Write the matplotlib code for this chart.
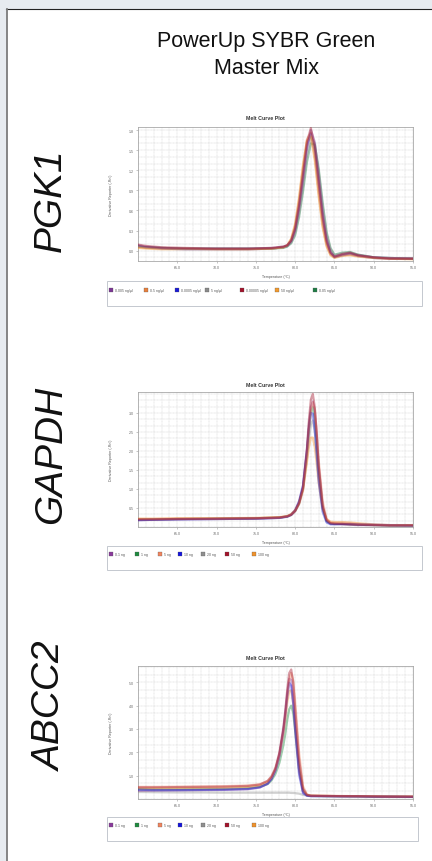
import matplotlib.pyplot as plt
from matplotlib.lines import Line2D
from matplotlib.patches import Rectangle
from matplotlib.ticker import AutoMinorLocator, MultipleLocator

plt.rcParams["font.family"] = ["Liberation Sans", "DejaVu Sans"]

# Canvas size in pixels (saved at dpi=100)
FIG_W, FIG_H = 432, 862

HEADER = ["PowerUp SYBR Green", "Master Mix"]
GENES = ["PGK1", "GAPDH", "ABCC2"]

# --- PGK1 melt curves (derivative reporter vs temperature) ---
PGK1_TEMPS = [60, 61, 63, 66, 70, 74, 77, 78.5, 79, 79.5, 80, 80.5, 81, 81.5,
              82, 82.5, 83, 83.5, 84, 84.5, 85, 86, 87, 88, 90, 92, 95]
PGK1_LABELS = ["0.005 ng/µl", "0.5 ng/µl", "0.0005 ng/µl", "5 ng/µl",
               "0.00005 ng/µl", "50 ng/µl", "0.05 ng/µl"]
PGK1_CURVES = [
    [0.08, 0.06, 0.04, 0.03, 0.03, 0.03, 0.04, 0.06, 0.08, 0.14, 0.30, 0.62, 1.05, 1.52,
     1.80, 1.62, 1.12, 0.58, 0.18, -0.02, -0.09, -0.06, -0.04, -0.07, -0.10, -0.11, -0.12],
    [0.05, 0.04, 0.03, 0.03, 0.02, 0.02, 0.03, 0.05, 0.08, 0.17, 0.38, 0.76, 1.25, 1.66,
     1.76, 1.40, 0.86, 0.38, 0.08, -0.06, -0.10, -0.07, -0.06, -0.08, -0.11, -0.12, -0.12],
    [0.06, 0.05, 0.03, 0.02, 0.02, 0.02, 0.03, 0.05, 0.07, 0.15, 0.34, 0.70, 1.16, 1.58,
     1.74, 1.48, 0.96, 0.46, 0.12, -0.04, -0.10, -0.07, -0.05, -0.08, -0.11, -0.12, -0.12],
    [0.07, 0.05, 0.04, 0.03, 0.03, 0.03, 0.03, 0.05, 0.07, 0.12, 0.26, 0.55, 0.96, 1.42,
     1.70, 1.60, 1.18, 0.66, 0.24, 0.02, -0.07, -0.04, -0.03, -0.06, -0.10, -0.11, -0.12],
    [0.09, 0.07, 0.05, 0.04, 0.03, 0.03, 0.04, 0.06, 0.08, 0.15, 0.33, 0.68, 1.14, 1.62,
     1.83, 1.55, 1.02, 0.50, 0.14, -0.03, -0.09, -0.05, -0.03, -0.07, -0.10, -0.12, -0.12],
    [0.04, 0.03, 0.02, 0.02, 0.02, 0.02, 0.03, 0.05, 0.08, 0.18, 0.40, 0.80, 1.28, 1.64,
     1.70, 1.34, 0.80, 0.34, 0.06, -0.07, -0.11, -0.08, -0.07, -0.09, -0.11, -0.12, -0.13],
    [0.06, 0.05, 0.04, 0.03, 0.03, 0.03, 0.03, 0.04, 0.06, 0.11, 0.23, 0.50, 0.88, 1.32,
     1.60, 1.58, 1.22, 0.72, 0.28, 0.04, -0.06, -0.03, -0.02, -0.06, -0.10, -0.11, -0.12],
]
PGK1_YTICKS = [0.0, 0.3, 0.6, 0.9, 1.2, 1.5, 1.8]

# --- GAPDH melt curves ---
GAPDH_TEMPS = [60, 62, 65, 70, 75, 78, 79, 79.5, 80, 80.5, 81, 81.5, 81.75, 82,
               82.25, 82.5, 82.75, 83, 83.5, 84, 84.5, 85, 86, 87, 88, 90, 92, 95]
DILUTION_LABELS = ["0.1 ng", "1 ng", "5 ng", "10 ng", "20 ng", "50 ng", "100 ng"]
GAPDH_CURVES = [
    [0.18, 0.19, 0.20, 0.21, 0.22, 0.24, 0.28, 0.33, 0.45, 0.68, 1.10, 2.05, 2.70, 3.15,
     3.30, 3.05, 2.40, 1.62, 0.58, 0.17, 0.09, 0.08, 0.07, 0.06, 0.05, 0.05, 0.04, 0.04],
    [0.20, 0.20, 0.21, 0.22, 0.23, 0.25, 0.28, 0.33, 0.43, 0.63, 1.02, 1.95, 2.58, 3.02,
     3.15, 2.85, 2.20, 1.48, 0.52, 0.16, 0.09, 0.08, 0.08, 0.07, 0.06, 0.05, 0.04, 0.04],
    [0.21, 0.21, 0.22, 0.22, 0.23, 0.25, 0.28, 0.33, 0.42, 0.60, 0.95, 1.85, 2.55, 3.05,
     3.28, 3.10, 2.50, 1.75, 0.68, 0.22, 0.12, 0.11, 0.11, 0.10, 0.08, 0.06, 0.05, 0.05],
    [0.18, 0.19, 0.20, 0.21, 0.22, 0.24, 0.27, 0.32, 0.43, 0.66, 1.08, 2.00, 2.60, 3.00,
     2.98, 2.55, 1.90, 1.20, 0.40, 0.12, 0.07, 0.07, 0.08, 0.08, 0.07, 0.06, 0.05, 0.04],
    [0.19, 0.20, 0.21, 0.21, 0.22, 0.24, 0.27, 0.31, 0.41, 0.60, 0.98, 1.78, 2.30, 2.70,
     2.80, 2.50, 1.92, 1.30, 0.48, 0.15, 0.09, 0.08, 0.08, 0.07, 0.06, 0.05, 0.04, 0.04],
    [0.20, 0.20, 0.21, 0.22, 0.23, 0.25, 0.28, 0.32, 0.42, 0.62, 1.02, 2.05, 2.80, 3.35,
     3.50, 3.15, 2.45, 1.60, 0.55, 0.18, 0.10, 0.09, 0.08, 0.07, 0.06, 0.05, 0.04, 0.04],
    [0.22, 0.22, 0.23, 0.23, 0.24, 0.26, 0.29, 0.34, 0.44, 0.64, 1.00, 1.70, 2.10, 2.35,
     2.35, 2.10, 1.65, 1.15, 0.48, 0.20, 0.14, 0.13, 0.13, 0.12, 0.10, 0.07, 0.05, 0.05],
]
GAPDH_YTICKS = [0.5, 1.0, 1.5, 2.0, 2.5, 3.0]

# --- ABCC2 melt curves ---
ABCC2_TEMPS = [60, 62, 65, 68, 71, 74, 75.5, 76.5, 77, 77.5, 78, 78.5, 78.75, 79,
               79.25, 79.5, 79.75, 80, 80.5, 81, 81.5, 82, 84, 86, 88, 90, 92, 95]
ABCC2_CURVES = [
    [0.35, 0.36, 0.37, 0.38, 0.39, 0.42, 0.49, 0.65, 0.88, 1.28, 1.95, 3.00, 3.72, 4.55,
     5.15, 5.10, 4.40, 3.25, 1.25, 0.30, 0.15, 0.13, 0.12, 0.12, 0.11, 0.10, 0.10, 0.09],
    [0.42, 0.41, 0.41, 0.42, 0.43, 0.46, 0.52, 0.64, 0.80, 1.08, 1.55, 2.30, 2.80, 3.40,
     3.85, 4.00, 3.70, 2.95, 1.30, 0.35, 0.16, 0.13, 0.12, 0.12, 0.11, 0.10, 0.10, 0.09],
    [0.52, 0.52, 0.53, 0.54, 0.55, 0.58, 0.63, 0.76, 0.94, 1.28, 1.88, 2.85, 3.55, 4.40,
     5.10, 5.40, 5.10, 4.20, 2.00, 0.55, 0.20, 0.15, 0.14, 0.13, 0.12, 0.12, 0.11, 0.11],
    [0.40, 0.38, 0.38, 0.39, 0.40, 0.43, 0.50, 0.66, 0.86, 1.22, 1.85, 2.90, 3.60, 4.40,
     4.98, 4.85, 4.10, 2.95, 1.05, 0.25, 0.14, 0.12, 0.12, 0.11, 0.11, 0.10, 0.10, 0.09],
    [0.30, 0.29, 0.28, 0.28, 0.27, 0.27, 0.27, 0.27, 0.27, 0.27, 0.27, 0.27, 0.27, 0.27,
     0.27, 0.26, 0.26, 0.25, 0.23, 0.18, 0.15, 0.14, 0.13, 0.12, 0.12, 0.11, 0.11, 0.10],
    [0.50, 0.50, 0.51, 0.52, 0.53, 0.56, 0.62, 0.78, 0.98, 1.35, 2.00, 3.05, 3.80, 4.70,
     5.40, 5.55, 5.00, 3.90, 1.70, 0.45, 0.18, 0.14, 0.13, 0.12, 0.12, 0.11, 0.10, 0.10],
    [0.45, 0.45, 0.46, 0.47, 0.48, 0.51, 0.57, 0.72, 0.92, 1.28, 1.90, 2.85, 3.45, 4.15,
     4.62, 4.65, 4.10, 3.10, 1.25, 0.35, 0.16, 0.14, 0.13, 0.12, 0.12, 0.11, 0.10, 0.10],
]
ABCC2_YTICKS = [1, 2, 3, 4, 5]

TEMP_TICKS = [65, 70, 75, 80, 85, 90, 95]

# Well colours as shown in the instrument legend
PGK1_COLORS = ["#7b3594", "#e8803c", "#1a1ad6", "#8a8a8a", "#a3122a", "#f39a2e", "#1f7d45"]
DILUTION_COLORS = ["#8a3a9c", "#1f8a3f", "#f0845e", "#1414dc", "#8f8f8f", "#a3122a", "#f0922c"]

# Back-to-front drawing order (indices into the legend order)
PGK1_ORDER = [2, 6, 3, 5, 1, 0, 4]
GAPDH_ORDER = [4, 1, 0, 6, 3, 2, 5]
ABCC2_ORDER = [4, 1, 6, 0, 3, 2, 5]


def fx(px):
    return px / FIG_W


def fy(px):
    return 1 - px / FIG_H


def draw_frame(fig):
    """White page with dark top rule and grey left rule."""
    fig.add_artist(Rectangle((fx(7), 0), 1 - fx(7), fy(10), transform=fig.transFigure,
                             facecolor="white", edgecolor="none", zorder=0))
    fig.add_artist(Line2D([fx(6), 1], [fy(9.5), fy(9.5)], transform=fig.transFigure,
                          color="#222222", lw=0.8))
    fig.add_artist(Line2D([fx(6.8), fx(6.8)], [0, fy(9.5)], transform=fig.transFigure,
                          color="#7c7c7c", lw=1.3))


def draw_panel(fig, box, temps, curves, labels, colors, order, ylim, yticks):
    left, right, top, bottom = box["axes"]
    ax = fig.add_axes([fx(left), fy(bottom), fx(right) - fx(left), fy(top) - fy(bottom)])

    for i in order:
        ax.plot(temps, curves[i], color=colors[i], lw=1.6, alpha=0.42,
                solid_joinstyle="round", solid_capstyle="round", zorder=3)

    ax.set_xlim(60, 95)
    ax.set_ylim(*ylim)
    ax.set_xticks(TEMP_TICKS)
    ax.set_xticklabels([f"{t:.1f}" for t in TEMP_TICKS])
    ax.set_yticks(yticks)
    ax.set_yticklabels([f"{t:.1f}" for t in yticks])
    ax.xaxis.set_minor_locator(MultipleLocator(1))
    ax.yaxis.set_minor_locator(AutoMinorLocator(3))
    ax.grid(which="both", color="#cfcfcf", lw=0.35, ls=(0, (2, 1)), zorder=0)
    ax.tick_params(which="major", length=1.5, width=0.4, color="#999999",
                   labelsize=2.6, labelcolor="#666666", pad=1.5)
    ax.tick_params(which="minor", length=0)
    for spine in ax.spines.values():
        spine.set_color("#a8a8a8")
        spine.set_linewidth(0.6)

    fig.text(fx(265), fy(box["title_y"]), "Melt Curve Plot", ha="center", va="center",
             fontsize=3.8, fontweight="bold", color="#333333")
    fig.text(fx(111), fy((top + bottom) / 2), "Derivative Reporter (-Rn')", rotation=90,
             ha="center", va="center", fontsize=2.6, color="#555555")
    fig.text(fx((left + right) / 2), fy(bottom + 15), "Temperature (°C)", ha="center",
             va="center", fontsize=2.6, color="#555555")

    # legend strip under the plot
    lx0, lx1, ly0, ly1 = box["legend"]
    fig.add_artist(Rectangle((fx(lx0), fy(ly1)), fx(lx1) - fx(lx0), fy(ly0) - fy(ly1),
                             transform=fig.transFigure, facecolor="white",
                             edgecolor="#c4c8cf", lw=0.7))
    ey = box["entry_y"]
    for x, label, color in zip(box["entries"], labels, colors):
        fig.add_artist(Rectangle((fx(x - 2.3), fy(ey + 2.3)), fx(4.6), 4.6 / FIG_H,
                                 transform=fig.transFigure, facecolor=color,
                                 edgecolor="#555555", lw=0.2))
        fig.text(fx(x + 4), fy(ey), label, ha="left", va="center", fontsize=2.5,
                 color="#555555")


PANELS = [
    {"axes": (138, 413, 128, 262), "title_y": 119, "legend": (107, 422, 282, 307),
     "entry_y": 291, "entries": [111, 146, 177, 207, 242, 277, 315]},
    {"axes": (138, 413, 393, 528), "title_y": 386, "legend": (107, 422, 547, 571),
     "entry_y": 555, "entries": [111, 137, 160, 180, 203, 227, 254]},
    {"axes": (138, 413, 667, 800), "title_y": 658, "legend": (107, 418, 818, 842),
     "entry_y": 826, "entries": [111, 137, 160, 180, 203, 227, 254]},
]


def main():
    fig = plt.figure(figsize=(FIG_W / 100, FIG_H / 100), dpi=100, facecolor="#e7ebf0")
    draw_frame(fig)

    fig.text(fx(266), fy(42), HEADER[0], ha="center", va="center", fontsize=15.5,
             color="#111111")
    fig.text(fx(266), fy(69), HEADER[1], ha="center", va="center", fontsize=15.5,
             color="#111111")

    for gene, yc in zip(GENES, [200, 455, 706]):
        fig.text(fx(51), fy(yc), gene, rotation=90, ha="center", va="center",
                 fontsize=28, style="italic", color="#111111")

    draw_panel(fig, PANELS[0], PGK1_TEMPS, PGK1_CURVES, PGK1_LABELS, PGK1_COLORS,
               PGK1_ORDER, (-0.155, 1.845), PGK1_YTICKS)
    draw_panel(fig, PANELS[1], GAPDH_TEMPS, GAPDH_CURVES, DILUTION_LABELS, DILUTION_COLORS,
               GAPDH_ORDER, (0, 3.55), GAPDH_YTICKS)
    draw_panel(fig, PANELS[2], ABCC2_TEMPS, ABCC2_CURVES, DILUTION_LABELS, DILUTION_COLORS,
               ABCC2_ORDER, (0, 5.7), ABCC2_YTICKS)

    fig.savefig("out.png", dpi=100, facecolor=fig.get_facecolor())
    plt.close(fig)


if __name__ == "__main__":
    main()
